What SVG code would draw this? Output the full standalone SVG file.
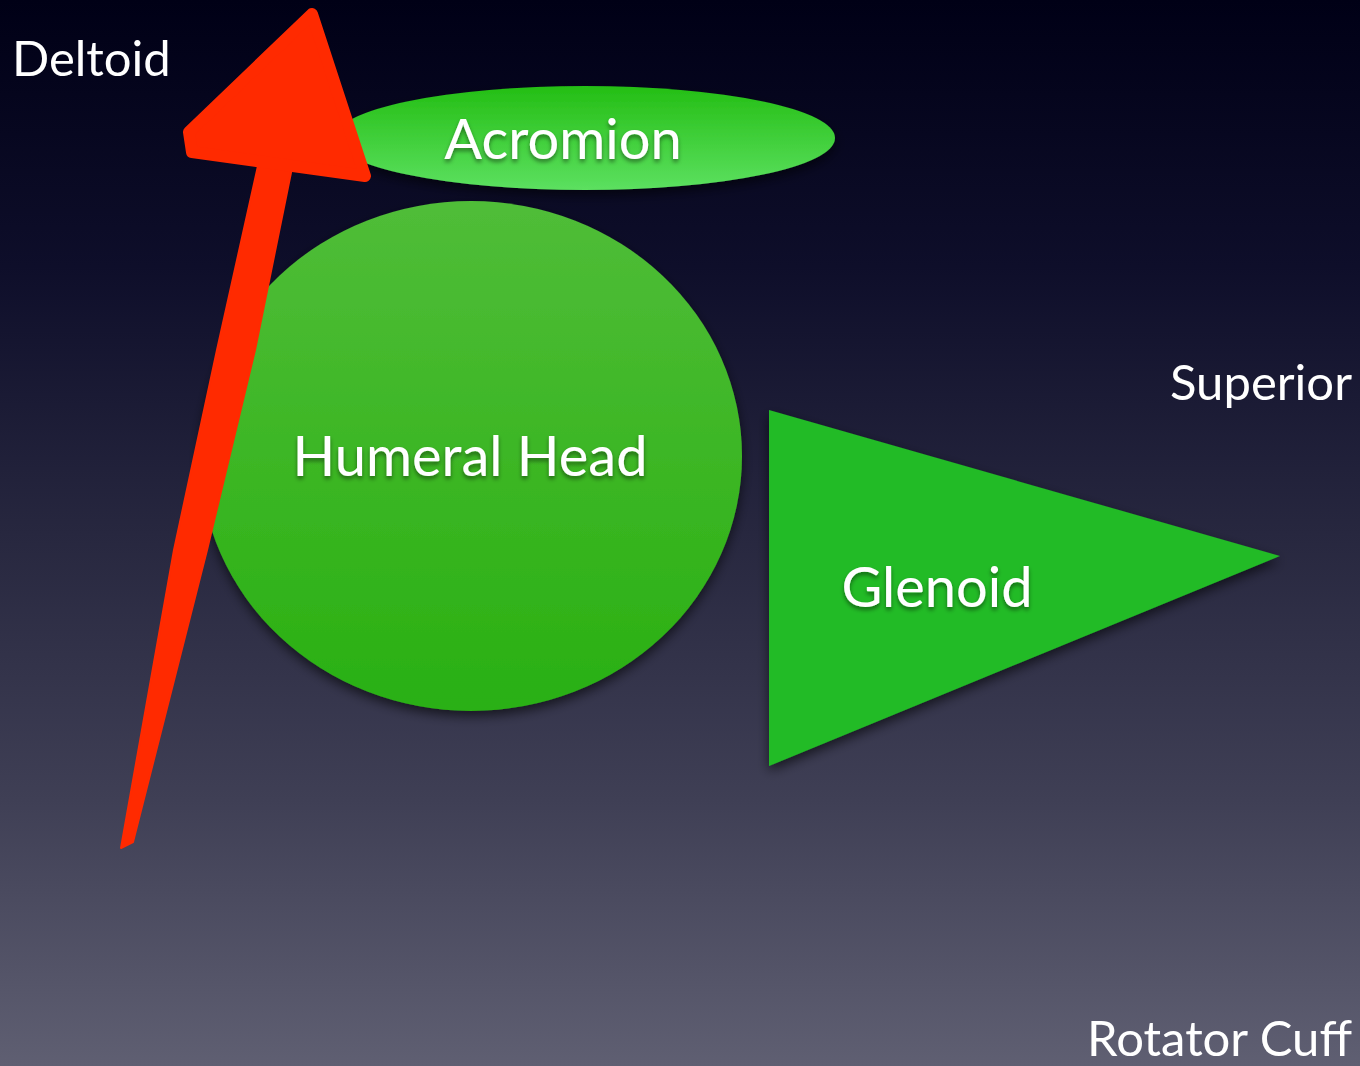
<svg xmlns="http://www.w3.org/2000/svg" width="1360" height="1066" viewBox="0 0 1360 1066">
<defs>
<linearGradient id="bg" x1="0" y1="0" x2="0" y2="1">
<stop offset="0" stop-color="#000016"/>
<stop offset="0.25" stop-color="#0e0e2a"/>
<stop offset="0.5" stop-color="#27273f"/>
<stop offset="0.75" stop-color="#3f3f55"/>
<stop offset="1" stop-color="#5f5f72"/>
</linearGradient>
<linearGradient id="acro" x1="0" y1="0" x2="0" y2="1">
<stop offset="0" stop-color="#24be14"/>
<stop offset="1" stop-color="#5ce060"/>
</linearGradient>
<linearGradient id="head" x1="0" y1="0" x2="0" y2="1">
<stop offset="0" stop-color="#50bd38"/>
<stop offset="1" stop-color="#29b012"/>
</linearGradient>
<filter id="sh" x="-10%" y="-10%" width="120%" height="130%">
<feDropShadow dx="0" dy="5" stdDeviation="6" flood-color="#000" flood-opacity="0.6"/>
</filter>
<filter id="tsh" x="-10%" y="-20%" width="120%" height="150%">
<feDropShadow dx="0" dy="3" stdDeviation="2" flood-color="#000" flood-opacity="0.45"/>
</filter>
<style>
.lbl{font-family:Lato,"Open Sans","Liberation Sans",sans-serif;fill:#ffffff}
.big{font-size:56px}
.side{font-size:49px}
</style>
</defs>
<rect width="1360" height="1066" fill="url(#bg)"/>
<g id="acromion">
<ellipse cx="585" cy="138" rx="250" ry="52" fill="url(#acro)" filter="url(#sh)"/>
<text class="lbl big" x="563" y="159" text-anchor="middle" filter="url(#tsh)">Acromion</text>
</g>
<g id="humeral-head">
<ellipse cx="471" cy="456" rx="271" ry="255" fill="url(#head)" filter="url(#sh)"/>
<text class="lbl big" x="470" y="476" text-anchor="middle" filter="url(#tsh)">Humeral Head</text>
</g>
<g id="glenoid">
<polygon points="769,410 1280,556 769,766" fill="#21bb25" filter="url(#sh)"/>
<text class="lbl big" x="937" y="607" text-anchor="middle" filter="url(#tsh)">Glenoid</text>
</g>
<g id="connectors">
<g id="deltoid-arrow" fill="#ff2a00">
<path d="M262,148 L217,350 L174,550 L121,848 L133,842 L207,550 L255,350 L296,148 Z" stroke="#ff2a00" stroke-width="2" stroke-linejoin="round"/>
<polygon points="312,14 189,132 192,152 365,176" stroke="#ff2a00" stroke-width="12" stroke-linejoin="round"/>
</g>
</g>
<g id="labels">
<text class="lbl side" x="12" y="76">Deltoid</text>
<text class="lbl side" x="1352" y="400" text-anchor="end">Superior</text>
<text class="lbl side" x="1352" y="1056" text-anchor="end">Rotator Cuff</text>
</g>
</svg>
